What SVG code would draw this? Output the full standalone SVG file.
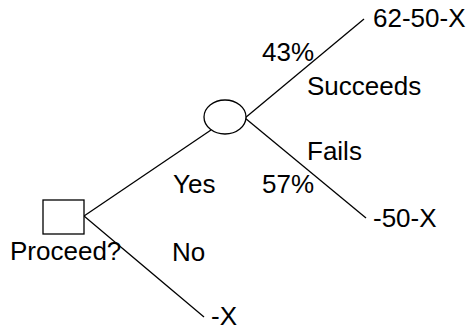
<svg xmlns="http://www.w3.org/2000/svg" width="469" height="331" viewBox="0 0 469 331">
<style>
text{font-family:"Liberation Sans",Arial,sans-serif;font-size:26px;fill:#000}
.n{fill:#fff;stroke:#000;stroke-width:1.3}
.c line{stroke:#000;stroke-width:1.3}
</style>
<rect width="469" height="331" fill="#fff"/>
<g class="c" id="connectors">
<line x1="84" y1="216" x2="211" y2="130"/>
<line x1="84" y1="216" x2="204" y2="317"/>
<line x1="245" y1="118" x2="364" y2="19"/>
<line x1="245" y1="118" x2="366" y2="218"/>
</g>
<g id="decision"><rect class="n" x="43" y="200" width="41" height="34"/></g>
<g id="chance"><ellipse class="n" cx="225" cy="117" rx="21" ry="17"/></g>
<g id="labels">
<text x="373" y="27">62-50-X</text>
<text x="262" y="61">43%</text>
<text x="307" y="95">Succeeds</text>
<text x="307" y="160">Fails</text>
<text x="262" y="193">57%</text>
<text x="173" y="193">Yes</text>
<text x="373" y="227">-50-X</text>
<text x="10" y="260">Proceed?</text>
<text x="172" y="261">No</text>
<text x="211" y="325">-X</text>
</g>
</svg>
